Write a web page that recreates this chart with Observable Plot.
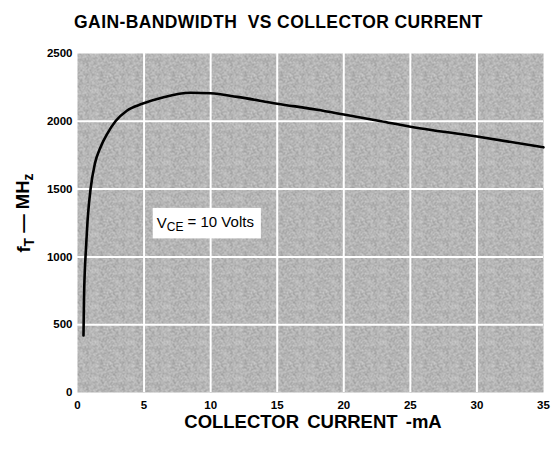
<!DOCTYPE html>
<html>
<head>
<meta charset="utf-8">
<script src="https://cdn.jsdelivr.net/npm/d3@7"></script>
<script src="https://cdn.jsdelivr.net/npm/@observablehq/plot@0.6"></script>
<style>
  body { margin: 0; background: #fff; }
  #title {
    width: 557px; height: 40px; box-sizing: border-box; padding-top: 12px;
    line-height: 20px; font: bold 17.5px "Liberation Sans", Arial, sans-serif;
    text-align: center; white-space: pre; letter-spacing: 0.4px; color: #000;
  }
</style>
</head>
<body>
<div id="title">GAIN-BANDWIDTH  VS COLLECTOR CURRENT</div>
<div id="chart"></div>
<script>
// Collector current (mA) and transition frequency f_T (MHz), V_CE = 10 V
const currentMA = [0.45, 0.49, 0.55, 0.63, 0.78, 0.98, 1.3, 1.73, 2.23, 2.85, 3.73, 4.86, 6.47, 8.5, 10, 12, 15, 18, 20, 22.8, 25, 30, 35];
const ftMHz     = [420, 700, 900, 1050, 1300, 1500, 1686, 1809, 1907, 2000, 2080, 2129, 2178, 2210, 2207, 2180, 2130, 2085, 2050, 2000, 1960, 1888, 1808];

const xTicks = [0, 5, 10, 15, 20, 25, 30, 35];
const yTicks = [0, 500, 1000, 1500, 2000, 2500];
const xGrid = [5, 10, 15, 20, 25, 30];
const yGrid = [500, 1000, 1500, 2000];

const curve = currentMA.map((x, i) => ({x, y: ftMHz[i]}));
const condition = [{x: 9.6, y: 1250, base: "V", sub: "CE", rest: " = 10 Volts"}];

const font = "'Liberation Sans', Arial, sans-serif";

const chart = Plot.plot({
  width: 557,
  height: 417,
  marginTop: 13,
  marginBottom: 65,
  marginLeft: 77,
  marginRight: 14,
  x: {domain: [0, 35], label: null},
  y: {domain: [0, 2500], label: null},
  style: {fontFamily: font, fontSize: "11.5px", fontWeight: "bold", color: "#000", background: "#fff", overflow: "visible"},
  marks: [
    Plot.frame({fill: "url(#stipple)", stroke: "none"}),
    Plot.gridX(xGrid, {stroke: "#fff", strokeOpacity: 1, strokeWidth: 2}),
    Plot.gridY(yGrid, {stroke: "#fff", strokeOpacity: 1, strokeWidth: 2}),
    Plot.axisX(xTicks, {tickSize: 0, tickPadding: 8, tickFormat: d => String(d), label: null}),
    Plot.axisY(yTicks, {tickSize: 0, tickPadding: 5, tickFormat: d => String(d), label: null}),
    Plot.line(curve, {x: "x", y: "y", stroke: "#000", strokeWidth: 2.6, curve: "monotone-x"}),
    Plot.text(condition, {x: "x", y: "y", text: d => d.base + d.sub + d.rest, fontSize: 15, fontWeight: "normal", fill: "#000"})
  ]
});

document.getElementById("chart").appendChild(chart);
const svg = d3.select(chart);

// Halftone stipple for the plotting area: 1px checker whose dot density
// wanders from cell to cell (integer hash, so the texture is fixed)
const tile = 36;
const hash = (i, j) => {
  let h = (i * 374761393 + j * 668265263) | 0;
  h = Math.imul(h ^ (h >>> 13), 1274126177);
  return ((h ^ (h >>> 16)) >>> 0) % 1000 / 1000;
};
const defs = svg.insert("defs", ":first-child");
const pat = defs.append("pattern")
  .attr("id", "stipple").attr("width", tile).attr("height", tile)
  .attr("patternUnits", "userSpaceOnUse");
pat.append("rect").attr("width", tile).attr("height", tile).attr("fill", "#dadada");
for (let i = 0; i < tile; i++) {
  for (let j = 0; j < tile; j++) {
    const h = hash(i, j);
    const dark = (i + j) % 2 === 0;
    const v = dark ? Math.round(112 + 60 * h) : Math.round(200 + 40 * h);
    const c = `rgb(${v},${v},${v})`;
    pat.append("rect").attr("x", i).attr("y", j).attr("width", 1).attr("height", 1)
      .attr("shape-rendering", "crispEdges").attr("fill", c);
  }
}

// Condition label with subscript and white backing box
svg.selectAll('g[aria-label="text"] text').each(function() {
  const t = d3.select(this);
  const c = condition[0];
  t.text(null);
  t.append("tspan").text(c.base);
  t.append("tspan").attr("dy", "0.3em").attr("font-size", "0.8em").text(c.sub);
  t.append("tspan").attr("dy", "-0.3em").text(c.rest);
  const bb = this.getBBox();
  const rect = document.createElementNS("http://www.w3.org/2000/svg", "rect");
  rect.setAttribute("x", bb.x - 4);
  rect.setAttribute("y", bb.y - 5);
  rect.setAttribute("width", bb.width + 11);
  rect.setAttribute("height", bb.height + 9);
  rect.setAttribute("fill", "#fff");
  if (this.getAttribute("transform")) rect.setAttribute("transform", this.getAttribute("transform"));
  this.parentNode.insertBefore(rect, this);
});

// Y axis title: f_T — MH_z
const yl = svg.append("text")
  .attr("transform", "translate(30,173) rotate(-90)")
  .attr("text-anchor", "middle")
  .style("font", `bold 18.5px ${font}`);
yl.append("tspan").text("f");
yl.append("tspan").attr("dy", "0.3em").attr("font-size", "0.75em").text("T");
yl.append("tspan").attr("dy", "-0.3em").text(" \u2014 MH");
yl.append("tspan").attr("dy", "0.3em").attr("font-size", "0.75em").text("z");

// X axis title
svg.append("text")
  .attr("x", 313).attr("y", 388)
  .attr("text-anchor", "middle")
  .style("font", `bold 18.5px ${font}`)
  .style("word-spacing", "3px")
  .text("COLLECTOR CURRENT -mA");
</script>
</body>
</html>
